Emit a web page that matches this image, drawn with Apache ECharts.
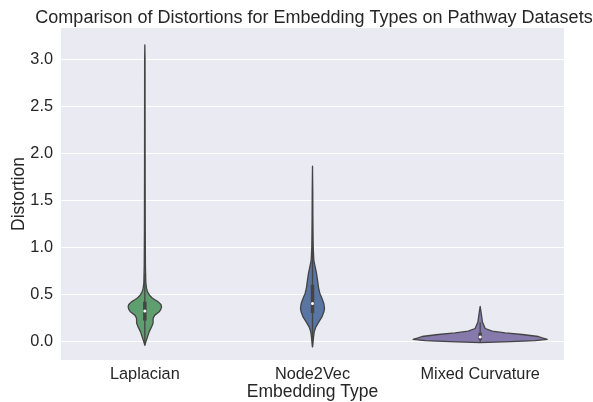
<!DOCTYPE html>
<html>
<head>
<meta charset="utf-8">
<script src="https://cdn.jsdelivr.net/npm/echarts@6/dist/echarts.min.js"></script>
<style>
  html, body { margin: 0; padding: 0; background: #fff; }
  #chart { width: 593px; height: 402px; }
</style>
</head>
<body>
<div id="chart"></div>
<script>
// categories on the x axis
const categories = ['Laplacian', 'Node2Vec', 'Mixed Curvature'];
const yTicks = [0, 0.5, 1.0, 1.5, 2.0, 2.5, 3.0];

// kde outlines: distortion value -> relative density (1 = widest violin)
const laplacianY = [-0.045, -0.007, 0.046, 0.099, 0.152, 0.191, 0.245, 0.277, 0.312, 0.34, 0.365, 0.39, 0.418, 0.44, 0.46, 0.489, 0.524, 0.564, 0.617, 0.8, 1.2, 2.0, 3.0, 3.15];
const laplacianDensity = [0, 0.015, 0.04, 0.064, 0.1, 0.122, 0.124, 0.149, 0.215, 0.24, 0.249, 0.24, 0.2, 0.15, 0.11, 0.07, 0.04, 0.025, 0.015, 0.009, 0.006, 0.004, 0.003, 0];

const node2vecY = [-0.06, 0.04, 0.096, 0.15, 0.2, 0.255, 0.31, 0.35, 0.4, 0.46, 0.51, 0.57, 0.65, 0.72, 0.79, 0.86, 1.0, 1.3, 1.6, 1.86];
const node2vecDensity = [0, 0.015, 0.025, 0.049, 0.09, 0.139, 0.169, 0.179, 0.169, 0.139, 0.109, 0.09, 0.075, 0.06, 0.04, 0.02, 0.01, 0.006, 0.004, 0];

const mixedY = [-0.015, -0.005, 0.005, 0.02, 0.035, 0.05, 0.071, 0.088, 0.106, 0.135, 0.205, 0.3, 0.37];
const mixedDensity = [0, 0.45, 0.82, 1.0, 0.925, 0.866, 0.627, 0.373, 0.179, 0.075, 0.034, 0.015, 0];

// inner box stats
const q1 = [0.22, 0.30, 0.015];
const medians = [0.32, 0.40, 0.045];
const q3 = [0.42, 0.60, 0.09];
const whiskerLow = [-0.04, -0.06, -0.01];
const whiskerHigh = [0.72, 1.05, 0.2];

const colors = ['#5f9e6e', '#5875a4', '#857aab'];
const edge = '#444444';

const violins = [
  [laplacianY, laplacianDensity],
  [node2vecY, node2vecDensity],
  [mixedY, mixedDensity]
];

const chart = echarts.init(document.getElementById('chart'));

function renderViolin(params, api) {
  const idx = api.value(0);
  const ys = violins[idx][0];
  const ds = violins[idx][1];
  const cx = api.coord([idx, 0])[0];
  const half = api.size([1, 0])[0] * 0.4;
  const left = [], right = [];
  for (let i = 0; i < ys.length; i++) {
    const py = api.coord([idx, ys[i]])[1];
    const w = Math.max(ds[i] * half, 0);
    left.push([cx - w, py]);
    right.unshift([cx + w, py]);
  }
  const top = api.coord([idx, q3[idx]])[1];
  const bot = api.coord([idx, q1[idx]])[1];
  const wTop = api.coord([idx, whiskerHigh[idx]])[1];
  const wBot = api.coord([idx, whiskerLow[idx]])[1];
  const med = api.coord([idx, medians[idx]])[1];
  return {
    type: 'group',
    children: [
      {
        type: 'polygon',
        shape: { points: left.concat(right) },
        style: { fill: colors[idx], stroke: edge, lineWidth: 1.3, lineJoin: 'round' }
      },
      {
        type: 'line',
        shape: { x1: cx, y1: wBot, x2: cx, y2: wTop },
        style: { stroke: edge, lineWidth: 1.3 }
      },
      {
        type: 'line',
        shape: { x1: cx, y1: bot, x2: cx, y2: top },
        style: { stroke: edge, lineWidth: 3.5 }
      },
      {
        type: 'circle',
        shape: { cx: cx, cy: med, r: 1.5 },
        style: { fill: '#ffffff' }
      }
    ]
  };
}

const option = {
  animation: false,
  backgroundColor: '#ffffff',
  title: {
    text: 'Comparison of Distortions for Embedding Types on Pathway Datasets',
    left: 309,
    textAlign: 'center',
    top: 4,
    textStyle: { fontFamily: 'Liberation Sans', fontSize: 18, fontWeight: 'normal', color: '#262626' }
  },
  grid: {
    left: 61, right: 29, top: 28, bottom: 42,
    outerBoundsMode: 'none',
    containLabel: false,
    show: true, backgroundColor: '#EAEAF2', borderWidth: 0
  },
  xAxis: {
    type: 'category',
    data: categories,
    boundaryGap: true,
    axisLine: { show: false },
    axisTick: { show: false },
    splitLine: { show: false },
    axisLabel: { fontFamily: 'Liberation Sans', fontSize: 16.3, color: '#262626', margin: 7 },
    name: 'Embedding Type',
    nameLocation: 'middle',
    nameMoveOverlap: false,
    nameGap: 23,
    nameTextStyle: { fontFamily: 'Liberation Sans', fontSize: 17.5, color: '#262626' }
  },
  yAxis: {
    type: 'value',
    min: -0.2,
    max: 3.33,
    axisLine: { show: false },
    axisTick: { show: false, customValues: yTicks },
    splitLine: { show: true, lineStyle: { color: '#ffffff', width: 1.2 } },
    axisLabel: {
      customValues: yTicks,
      fontFamily: 'Liberation Sans', fontSize: 16.3, color: '#262626', margin: 8,
      formatter: v => v.toFixed(1)
    },
    name: 'Distortion',
    nameLocation: 'middle',
    nameMoveOverlap: false,
    nameGap: 33,
    nameTextStyle: { fontFamily: 'Liberation Sans', fontSize: 17.5, color: '#262626' }
  },
  series: [{
    type: 'custom',
    renderItem: renderViolin,
    data: [[0], [1], [2]],
    encode: { x: 0 },
    clip: true,
    silent: true
  }]
};

chart.setOption(option);
</script>
</body>
</html>
